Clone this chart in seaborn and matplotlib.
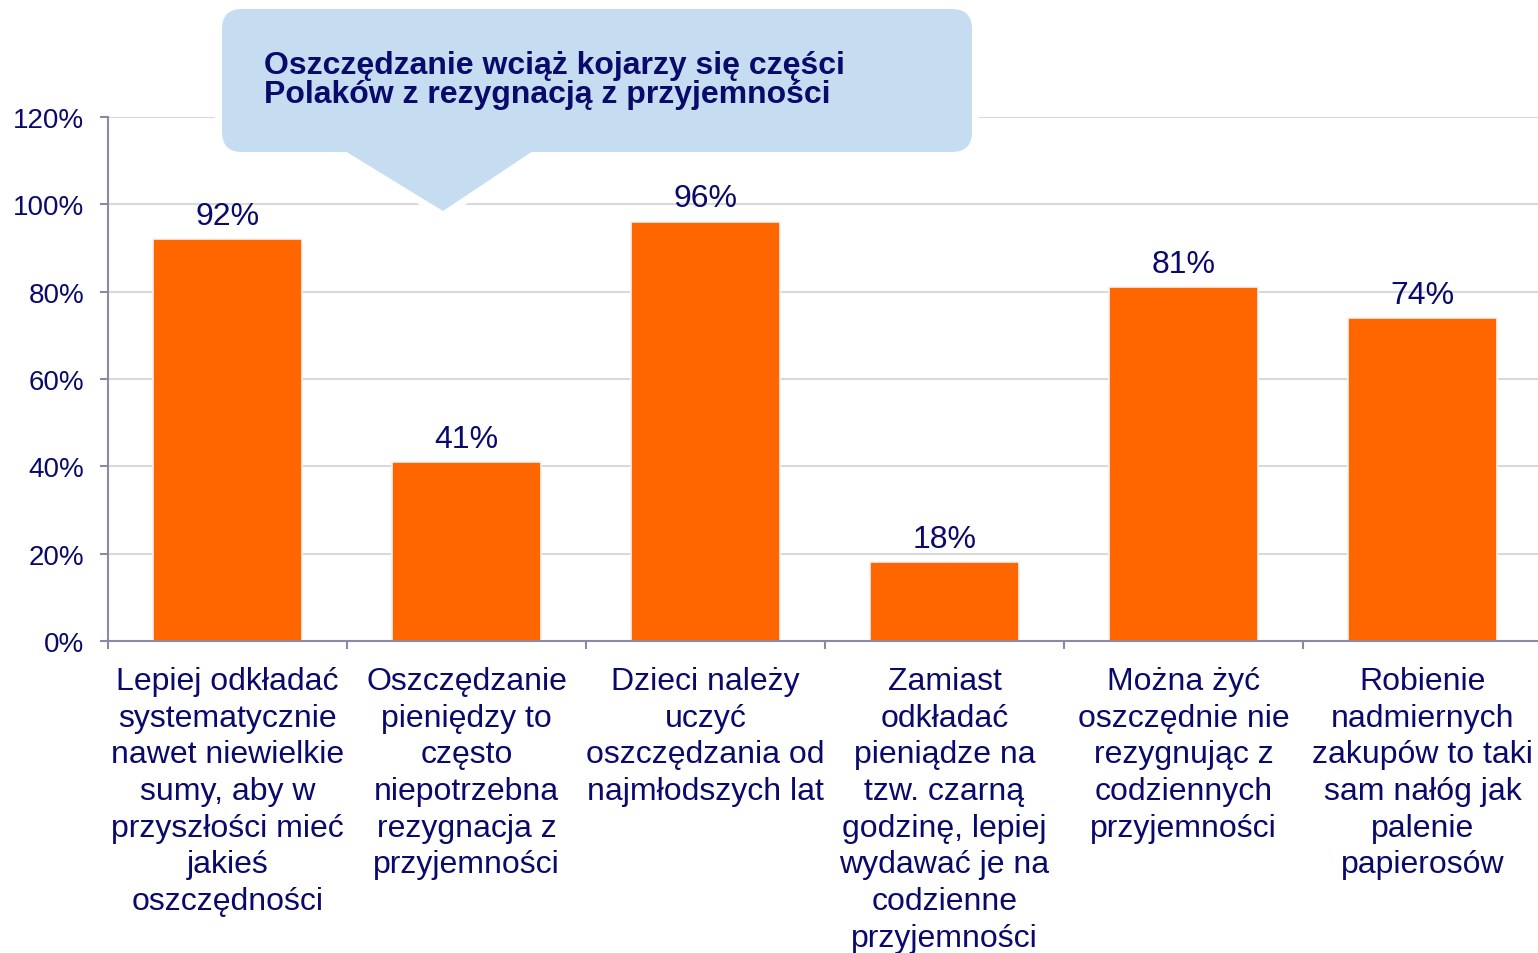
import matplotlib
matplotlib.use("Agg")
import matplotlib.pyplot as plt
import seaborn as sns
import numpy as np
import pandas as pd
from matplotlib.patches import FancyBboxPatch, Polygon

categories = [
    "Lepiej odkładać\nsystematycznie\nnawet niewielkie\nsumy, aby w\nprzyszłości mieć\njakieś\noszczędności",
    "Oszczędzanie\npieniędzy to\nczęsto\nniepotrzebna\nrezygnacja z\nprzyjemności",
    "Dzieci należy\nuczyć\noszczędzania od\nnajmłodszych lat",
    "Zamiast\nodkładać\npieniądze na\ntzw. czarną\ngodzinę, lepiej\nwydawać je na\ncodzienne\nprzyjemności",
    "Można żyć\noszczędnie nie\nrezygnując z\ncodziennych\nprzyjemności",
    "Robienie\nnadmiernych\nzakupów to taki\nsam nałóg jak\npalenie\npapierosów",
]
values = [0.92, 0.41, 0.96, 0.18, 0.81, 0.74]
value_labels = ["92%", "41%", "96%", "18%", "81%", "74%"]
y_ticks = [0, 0.2, 0.4, 0.6, 0.8, 1.0, 1.2]
y_tick_labels = ["0%", "20%", "40%", "60%", "80%", "100%", "120%"]
title_text = "Oszczędzanie wciąż kojarzy się części\nPolaków z rezygnacją z przyjemności"

sns.set_theme(style="white")
plt.rcParams['font.family'] = ['Liberation Sans', 'DejaVu Sans']

NAVY = "#0a0a6b"
ORANGE = "#ff6600"
AXCOL = "#8a8aa6"
GRID = "#d9d9d9"

W, H = 1538, 954
fig = plt.figure(figsize=(W / 100, H / 100), dpi=100)
fig.patch.set_facecolor("white")

ax_l, ax_r, ax_b, ax_t = 108, 1542, 642, 118
ax = fig.add_axes([ax_l / W, (H - ax_b) / H, (ax_r - ax_l) / W, (ax_b - ax_t) / H])

df = pd.DataFrame({"cat": categories, "val": values})
sns.barplot(data=df, x="cat", y="val", color=ORANGE, saturation=1, width=0.62,
            edgecolor="#f2f2f2", linewidth=1.2, ax=ax, zorder=3)

ax.set_xlim(-0.5, len(categories) - 0.5)
ax.set_ylim(0, 1.2)
ax.set_yticks(y_ticks)
ax.set_yticklabels(y_tick_labels)
ax.set_xticks(range(len(categories)))
ax.set_xticklabels(categories, linespacing=1.29, va="top")
ax.set_xticks(np.arange(-0.5, len(categories)), minor=True)
ax.tick_params(axis="x", which="major", length=0, pad=18, labelsize=23, labelcolor=NAVY)
ax.tick_params(axis="x", which="minor", length=6, width=1.5, color=AXCOL, direction="out", bottom=True)
ax.tick_params(axis="y", which="major", length=6, width=1.5, color=AXCOL, direction="out",
               pad=11, labelsize=20, labelcolor=NAVY, left=True)
ax.set_xlabel("")
ax.set_ylabel("")
for s in ["top", "right"]:
    ax.spines[s].set_visible(False)
for s in ["left", "bottom"]:
    ax.spines[s].set_color(AXCOL)
    ax.spines[s].set_linewidth(1.5)
    ax.spines[s].set_zorder(4)
ax.yaxis.grid(True, color=GRID, linewidth=1.5, zorder=0)
ax.set_axisbelow(True)

for i, (v, lab) in enumerate(zip(values, value_labels)):
    ax.annotate(lab, (i, v), xytext=(0, 6), textcoords="offset points",
                ha="center", va="bottom", fontsize=23, color=NAVY, zorder=5)

# Callout overlay in pixel coordinates
ov = fig.add_axes([0, 0, 1, 1], zorder=10)
ov.set_xlim(0, W)
ov.set_ylim(H, 0)
ov.axis("off")
ov.patch.set_alpha(0)
CALL = "#c6dcf0"
bx0, by0, bx1, by1 = 222, 10, 972, 153
tri = [(345, 152), (533, 152), (443, 212)]
for ec, lw, z in [("white", 10, 1), (CALL, 0, 2)]:
    ov.add_patch(FancyBboxPatch((bx0 + 20, by0 + 20), (bx1 - bx0) - 40, (by1 - by0) - 40,
                                boxstyle="round,pad=20", facecolor=CALL, edgecolor=ec,
                                linewidth=lw, zorder=z))
    ov.add_patch(Polygon(tri, closed=True, facecolor=CALL, edgecolor=ec, linewidth=lw, zorder=z))
ov.text(264, 51, title_text, ha="left", va="top", fontsize=23, fontweight="bold",
        color=NAVY, linespacing=0.97, zorder=3)

fig.savefig("out.png", dpi=100, facecolor="white")
